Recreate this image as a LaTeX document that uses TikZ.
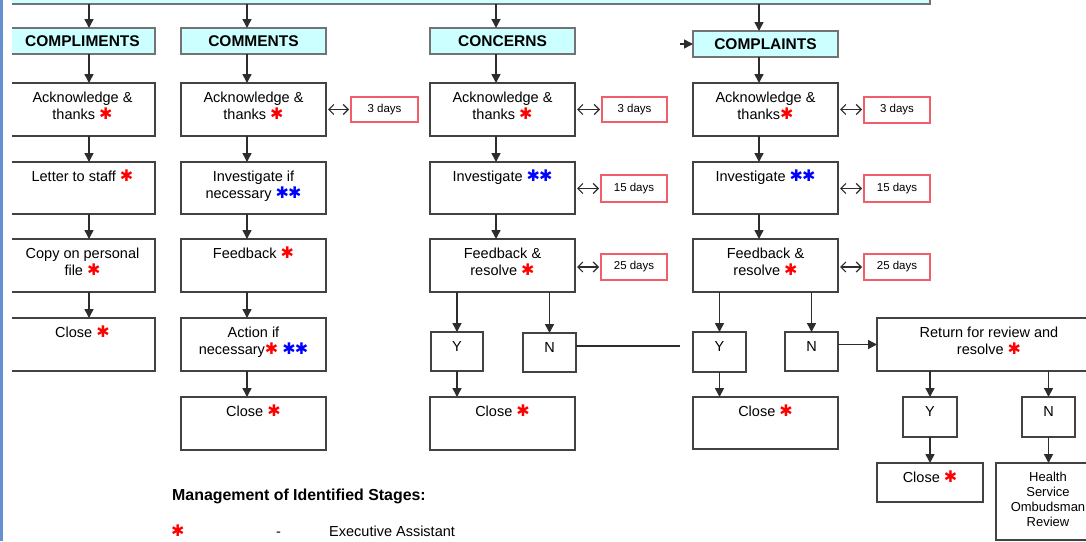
\documentclass[tikz,border=0pt]{standalone}
\usepackage{fontspec}
\setmainfont{Liberation Sans}
\newfontfamily\symf{DejaVu Sans}
\usetikzlibrary{arrows.meta}
\definecolor{headc}{RGB}{204,255,255}
\definecolor{linec}{RGB}{45,45,45}
\definecolor{dayc}{RGB}{240,95,105}
\definecolor{redst}{RGB}{255,0,0}
\definecolor{bluest}{RGB}{0,0,255}
\definecolor{edgeblue}{RGB}{100,145,210}
\newcommand\rs{{\symf\fontsize{16}{16}\selectfont\textcolor{redst}{✱}}}
\newcommand\bs{{\symf\fontsize{16}{16}\selectfont\textcolor{bluest}{✱\kern-1pt✱}}}
% stage box: name, x1, y1, x2, y2, text
\newcommand\stg[6]{\pgfmathsetmacro\bw{#4-#2}\pgfmathsetmacro\bh{#5-#3}%
  \node[stage, anchor=north west] (#1) at (#2,#3)
    {\parbox[c][\bh pt][t]{\bw pt}{\centering\rule{0pt}{19pt}#6\par}};}
% heading box: name, x1, y1, x2, y2, text
\newcommand\hdb[6]{\pgfmathsetmacro\bw{#4-#2}\pgfmathsetmacro\bh{#5-#3}%
  \node[head, anchor=north west, minimum width=\bw pt, minimum height=\bh pt] (#1) at (#2,#3) {#6};}
% days box: name, x1, y1, x2, y2, text
\newcommand\dyb[6]{\pgfmathsetmacro\bw{#4-#2}\pgfmathsetmacro\bh{#5-#3}%
  \node[days, anchor=north west, minimum width=\bw pt, minimum height=\bh pt] (#1) at (#2,#3) {#6};}
\begin{document}
\begin{tikzpicture}[x=1pt,y=-1pt,
  every node/.style={font=\fontsize{14.5}{17}\selectfont},
  stage/.style={draw=linec!90, line width=1.4pt, inner sep=0pt, outer sep=0pt, fill=white},
  head/.style={draw=black!55, line width=1.4pt, fill=headc, inner sep=0pt, outer sep=0pt,
    font=\fontsize{15.5}{17}\selectfont\bfseries},
  days/.style={draw=dayc, line width=1.1pt, inner sep=0pt, outer sep=0pt,
    font=\fontsize{11.5}{13}\selectfont},
  arr/.style={draw=linec, line width=1.5pt, -{Triangle[length=9pt,width=9pt]}},
  dbl/.style={draw=linec, line width=1.2pt, shorten <=2pt, shorten >=2pt,
    {Straight Barb[length=5pt,width=10pt]}-{Straight Barb[length=5pt,width=10pt]}},
  ln/.style={draw=linec, line width=1.3pt},
  small/.style={font=\fontsize{13}{15}\selectfont}]
\useasboundingbox (0,0) rectangle (1086,541);
\fill[white] (0,0) rectangle (1086,541);
\draw[edgeblue, line width=2.5pt] (1.5,0) -- (1.5,541);
\coordinate (x1) at (89,0);
\coordinate (x2) at (247,0);
\coordinate (x3) at (496,0);
\coordinate (x4) at (759,0);
\begin{scope}
\clip (12,0) rectangle (1086,541);
\hdb{tp}{-5}{-20}{930}{4}{}
\hdb{h1}{10}{28}{155}{54}{COMPLIMENTS}
\hdb{h2}{181}{28}{326}{54}{COMMENTS}
\hdb{h3}{430}{28}{575}{54}{CONCERNS}
\hdb{h4}{693}{31}{838}{57}{COMPLAINTS}
% compliments
\stg{a1}{10}{83}{155}{136}{Acknowledge \&\\thanks \rs}
\stg{a2}{10}{162}{155}{214}{Letter to staff \rs}
\stg{a3}{10}{239}{155}{292}{Copy on personal\\file \rs}
\stg{a4}{10}{318}{155}{371}{Close \rs}
% comments
\stg{b1}{181}{83}{326}{136}{Acknowledge \&\\thanks \rs}
\stg{b2}{181}{162}{326}{214}{Investigate if\\necessary \bs}
\stg{b3}{181}{239}{326}{292}{Feedback \rs}
\stg{b4}{181}{318}{326}{371}{Action if\\necessary\rs\ \bs}
\stg{b5}{181}{397}{326}{450}{Close \rs}
% concerns
\stg{c1}{430}{83}{575}{136}{Acknowledge \&\\thanks \rs}
\stg{c2}{430}{162}{575}{214}{Investigate \bs}
\stg{c3}{430}{239}{575}{292}{Feedback \&\\resolve \rs}
\stg{cy}{431}{332}{483}{371}{Y}
\stg{cn}{523}{333}{576}{372}{N}
\stg{c5}{430}{397}{575}{450}{Close \rs}
% complaints
\stg{k1}{693}{83}{838}{136}{Acknowledge \&\\thanks\rs}
\stg{k2}{693}{162}{838}{214}{Investigate \bs}
\stg{k3}{693}{239}{838}{292}{Feedback \&\\resolve \rs}
\stg{ky}{693}{332}{746}{372}{Y}
\stg{kn}{785}{332}{838}{371}{N}
\stg{k5}{693}{397}{838}{449}{Close \rs}
\stg{kr}{877}{318}{1101}{371}{Return for review and\\resolve \rs}
\stg{ry}{903}{397}{957}{437}{Y}
\stg{rn}{1022}{397}{1075}{437}{N}
\stg{rc}{877}{463}{983}{502}{Close \rs}
\pgfmathsetmacro\bw{104}\pgfmathsetmacro\bh{77}
\node[stage, anchor=north west, small] (rh) at (996,463)
  {\parbox[c][\bh pt][t]{\bw pt}{\centering\rule{0pt}{18pt}Health\\Service\\Ombudsman\\Review\par}};
% days
\dyb{db1}{351}{97}{418}{122}{3 days}
\dyb{dc1}{602}{97}{667}{122}{3 days}
\dyb{dk1}{864}{97}{930}{123}{3 days}
\dyb{dc2}{601}{175}{667}{202}{15 days}
\dyb{dk2}{864}{175}{930}{202}{15 days}
\dyb{dc3}{601}{254}{667}{280}{25 days}
\dyb{dk3}{864}{254}{930}{280}{25 days}
% arrows from top
\draw[arr] (tp.south -| x1) -- (h1.north -| x1);
\draw[arr] (tp.south -| x2) -- (h2.north -| x2);
\draw[arr] (tp.south -| x3) -- (h3.north -| x3);
\draw[arr] (tp.south -| x4) -- (h4.north -| x4);
% compliments column
\draw[arr] (h1.south -| x1) -- (a1.north -| x1);
\draw[arr] (a1.south -| x1) -- (a2.north -| x1);
\draw[arr] (a2.south -| x1) -- (a3.north -| x1);
\draw[arr] (a3.south -| x1) -- (a4.north -| x1);
% comments column
\draw[arr] (h2.south -| x2) -- (b1.north -| x2);
\draw[arr] (b1.south -| x2) -- (b2.north -| x2);
\draw[arr] (b2.south -| x2) -- (b3.north -| x2);
\draw[arr] (b3.south -| x2) -- (b4.north -| x2);
\draw[arr] (b4.south -| x2) -- (b5.north -| x2);
% concerns column
\draw[arr] (h3.south -| x3) -- (c1.north -| x3);
\draw[arr] (c1.south -| x3) -- (c2.north -| x3);
\draw[arr] (c2.south -| x3) -- (c3.north -| x3);
\draw[arr] (c3.south -| cy.north) -- (cy.north);
\draw[arr] (c3.south -| cn.north) -- (cn.north);
\draw[arr] (cy.south) -- (c5.north -| cy.south);
\coordinate (cnend) at (680,346);
\draw[ln] (cnend -| cn.east) -- (cnend);
% complaints column
\coordinate (kin) at (680,44);
\draw[arr] (kin) -- (kin -| h4.west);
\draw[arr] (h4.south -| x4) -- (k1.north -| x4);
\draw[arr] (k1.south -| x4) -- (k2.north -| x4);
\draw[arr] (k2.south -| x4) -- (k3.north -| x4);
\draw[arr] (k3.south -| ky.north) -- (ky.north);
\draw[arr] (k3.south -| kn.north) -- (kn.north);
\draw[arr] (ky.south) -- (k5.north -| ky.south);
\draw[arr] (kr.west -| kn.east) -- (kr.west);
\draw[arr] (kr.south -| ry.north) -- (ry.north);
\draw[arr] (kr.south -| rn.north) -- (rn.north);
\draw[arr] (ry.south) -- (rc.north);
\draw[arr] (rn.south) -- (rh.north -| rn.south);
% day arrows
\draw[dbl] (b1.east) -- (b1.east -| db1.west);
\draw[dbl] (c1.east) -- (c1.east -| dc1.west);
\draw[dbl] (k1.east) -- (k1.east -| dk1.west);
\draw[dbl] (dc2.west -| c2.east) -- (dc2.west);
\draw[dbl] (dk2.west -| k2.east) -- (dk2.west);
\draw[dbl] (dc3.west -| c3.east) -- (dc3.west);
\draw[dbl] (dk3.west -| k3.east) -- (dk3.west);
\end{scope}
% legend
\node[anchor=base west, inner sep=0pt, font=\fontsize{15.9}{18}\selectfont\bfseries] (leg) at (172,500.5) {Management of Identified Stages:};
\node[anchor=base west, inner sep=0pt] (legst) at (171,536) {\rs};
\node[anchor=base west, inner sep=0pt] (legdash) at (276,536) {-};
\node[anchor=base west, inner sep=0pt] (legea) at (329,536) {Executive Assistant};
\end{tikzpicture}
\end{document}
